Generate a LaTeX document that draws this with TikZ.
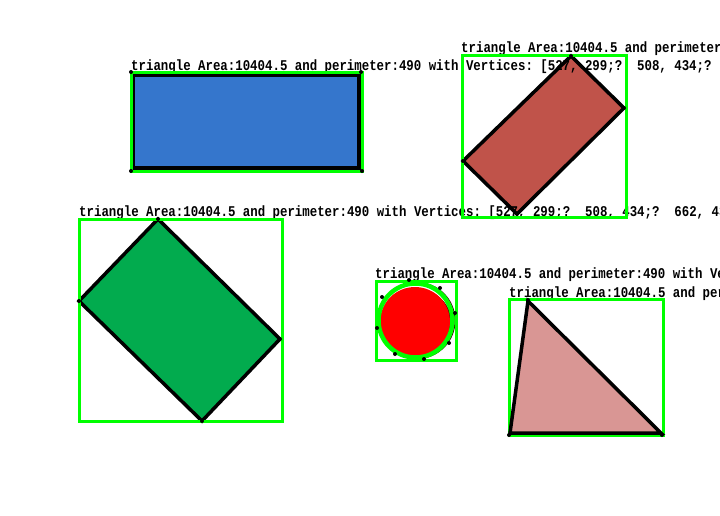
\documentclass[tikz,border=0pt]{standalone}
\usepackage{fontspec}
\setmonofont{Liberation Mono}
\usetikzlibrary{positioning}
\definecolor{shapeblue}{RGB}{53,118,204}
\definecolor{shapebrick}{RGB}{192,83,74}
\definecolor{shapegreen}{RGB}{2,171,78}
\definecolor{shapepink}{RGB}{217,150,148}
\definecolor{boxgreen}{RGB}{0,255,0}
\newcommand{\shapelab}{\scalebox{1}[1.2]{triangle Area:10404.5 and perimeter:490 with Vertices: [527, 299;?\ \ 508, 434;?\ \ 662, 434;?]}}

\begin{document}
\begin{tikzpicture}[x={(1pt,0pt)},y={(0pt,-1pt)},
  lab/.style={anchor=base west,inner sep=0pt,font=\fontsize{12.4}{14}\selectfont\ttfamily\bfseries},
  cont/.style={draw=black,line width=3.5pt,line join=miter},
  bbox/.style={draw=boxgreen,line width=3pt},
  vtx/.style={fill=black}]
\useasboundingbox (0,0) rectangle (720,515);
\clip (0,0) rectangle (720,515);
% corners of the shapes
\coordinate (b1) at (133.5,75); \coordinate (b2) at (359,75);
\coordinate (b3) at (359,168); \coordinate (b4) at (133.5,168);
\coordinate (r1) at (571,56); \coordinate (r2) at (624,108);
\coordinate (r3) at (517,214); \coordinate (r4) at (463,161);
\coordinate (g1) at (158,219); \coordinate (g2) at (280,339);
\coordinate (g3) at (202,421); \coordinate (g4) at (79,301);
\coordinate (t1) at (528,301); \coordinate (t2) at (661,433);
\coordinate (t3) at (510,433);
\coordinate (cc) at (415,322);
% fills
\fill[shapeblue] (b1)--(b2)--(b3)--(b4)--cycle;
\fill[shapebrick] (r1)--(r2)--(r3)--(r4)--cycle;
\fill[shapegreen] (g1)--(g2)--(g3)--(g4)--cycle;
\fill[shapepink] (t1)--(t2)--(t3)--cycle;
\draw[black!80!red,line width=1pt] (417,320.5) circle (38pt);
\fill[black!70!red] (417,324) circle (35pt);
\fill[red] (cc) circle (35pt);
% labels
\node[lab] (labblue) at (131,70) {\shapelab};
\node[lab] (labbrick) at (461,52) {\shapelab};
\node[lab] (labgreen) at (79,216) {\shapelab};
\node[lab] (labcirc) at (375,278) {\shapelab};
\node[lab] (labtri) at (509,297) {\shapelab};
% contours
\draw[cont] (b1)--(b2)--(b3)--(b4)--cycle;
\draw[cont] (r1)--(r2)--(r3)--(r4)--cycle;
\draw[cont] (g1)--(g2)--(g3)--(g4)--cycle;
\draw[boxgreen,line width=4.5pt] (415.5,320.5) circle (37pt);
% bounding boxes
\draw[bbox] (131,72) rectangle (362,171);
\draw[bbox] (462,55) rectangle (626,217);
\draw[bbox] (79,219) rectangle (282,421);
\draw[bbox] (376,281) rectangle (456,360);
\draw[bbox] (509,299) rectangle (663,435);
\draw[cont] (t1)--(t2)--(t3)--cycle;
% vertices
\foreach \v in {r1,r2,r3,r4,g1,g2,g3,g4}
  \fill[vtx] (\v) circle (2pt);
\foreach \p in {(131,72),(361,72),(131,171),(362,171),(409,280),(440,288),(382,297),(455,313),(377,328),(449,343),(395,354),(424,359),(528,300),(509,435),(662,435)}
  \fill[vtx] \p circle (2pt);
\end{tikzpicture}
\end{document}
